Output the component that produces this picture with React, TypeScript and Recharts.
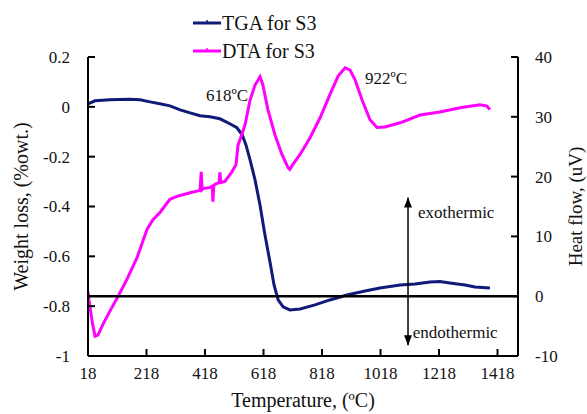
import React from 'react'
import { LineChart, Line, XAxis, YAxis, ReferenceLine, ReferenceDot, Legend } from 'recharts'

const FONT = '"Liberation Serif", "Times New Roman", serif'
const NAVY = '#101a78'
const MAGENTA = '#ff00ff'

const tempTicks = [18, 218, 418, 618, 818, 1018, 1218, 1418]
const weightTicks = [0.2, 0, -0.2, -0.4, -0.6, -0.8, -1]
const heatTicks = [40, 30, 20, 10, 0, -10]

// TGA for S3 (weight loss, %wt.)
const tgaTemp = [18, 42, 93, 162, 196, 230, 264, 298, 333, 367, 401, 435, 469, 503, 527, 545, 558, 572, 589, 606, 623, 640, 654, 668, 685, 708, 743, 794, 845, 903, 965, 1016, 1085, 1136, 1187, 1221, 1255, 1307, 1341, 1392]
const tgaWeight = [0.012, 0.024, 0.028, 0.03, 0.028, 0.02, 0.012, 0.004, -0.012, -0.024, -0.036, -0.04, -0.048, -0.068, -0.084, -0.112, -0.153, -0.213, -0.293, -0.394, -0.514, -0.622, -0.715, -0.775, -0.803, -0.815, -0.811, -0.795, -0.775, -0.755, -0.739, -0.727, -0.715, -0.711, -0.703, -0.701, -0.707, -0.715, -0.723, -0.727]

// DTA for S3 (heat flow, uV)
const dtaTemp = [18, 21, 32, 42, 52, 69, 93, 121, 151, 186, 220, 240, 264, 298, 322, 367, 401, 405, 408, 412, 435, 443, 445, 448, 452, 466, 469, 472, 486, 510, 524, 531, 538, 555, 572, 589, 606, 616, 633, 657, 681, 702, 708, 718, 743, 777, 811, 845, 873, 897, 914, 931, 955, 982, 1006, 1033, 1085, 1153, 1221, 1290, 1358, 1382, 1392]
const dtaHeat = [0.7, -0.5, -4.2, -6.7, -6.5, -4.7, -2.5, 0, 2.8, 6.5, 11.2, 12.8, 14, 16.2, 16.7, 17.3, 17.7, 20.8, 17.8, 18, 18.2, 18.4, 15.8, 18.5, 18.7, 19, 20.7, 19, 19.2, 20.8, 22, 25.3, 26.2, 28.7, 32.8, 35.3, 36.7, 35.3, 31.2, 27, 23.7, 21.5, 21.2, 22, 23.7, 26.5, 29.8, 33.7, 36.8, 38.2, 37.8, 36.2, 32.8, 29.5, 28.2, 28.3, 29, 30.3, 30.8, 31.5, 32, 31.8, 31.2]

const tgaData = tgaTemp.map((t, i) => ({ t, w: tgaWeight[i] }))
const dtaData = dtaTemp.map((t, i) => ({ t, h: dtaHeat[i] }))

const txt = { fontFamily: FONT, fill: '#111' }

const LeftTick = ({ x, y, payload }: any) => (
  <g>
    <line x1={x + 18} x2={x + 25} y1={y} y2={y} stroke="#000" strokeWidth={2} />
    <text x={x} y={y} dy="0.35em" textAnchor="end" fontSize={17} {...txt}>{payload.value}</text>
  </g>
)

const RightTick = ({ x, y, payload }: any) => (
  <g>
    <line x1={x - 17} x2={x - 24} y1={y} y2={y} stroke="#000" strokeWidth={2} />
    <text x={x} y={y} dy="0.35em" textAnchor="start" fontSize={17} {...txt}>{payload.value}</text>
  </g>
)

const BottomTick = ({ x, y, payload }: any) => (
  <g>
    <line x1={x} x2={x} y1={y} y2={y - 7} stroke="#000" strokeWidth={2} />
    <text x={x} y={y + 23} textAnchor="middle" fontSize={17} {...txt}>{payload.value}</text>
  </g>
)

const note = (value: string, anchor: 'start' | 'middle' = 'middle') => (p: any) => (
  <text x={p.cx} y={p.cy} dy="0.35em" textAnchor={anchor} fontSize={17} {...txt}>{value}</text>
)

const arrowHead = (up: boolean) => (p: any) => (
  <path
    d={up
      ? `M${p.cx},${p.cy} L${p.cx - 4},${p.cy + 10} L${p.cx + 4},${p.cy + 10} Z`
      : `M${p.cx},${p.cy} L${p.cx - 4},${p.cy - 10} L${p.cx + 4},${p.cy - 10} Z`}
    fill="#000"
  />
)

const legendItems = [
  { name: 'TGA for S3', color: NAVY },
  { name: 'DTA for S3', color: MAGENTA },
]

const renderLegend = () => (
  <div style={{ fontFamily: FONT, fontSize: 20, color: '#111', lineHeight: '28px' }}>
    {legendItems.map(it => (
      <div key={it.name} style={{ display: 'flex', alignItems: 'center', height: 28 }}>
        <svg width={30} height={10} style={{ marginRight: 0 }}>
          <line x1={1} x2={29} y1={5} y2={5} stroke={it.color} strokeWidth={3} />
          <line x1={15} x2={15} y1={2} y2={5} stroke={it.color} strokeWidth={1.5} />
        </svg>
        <span>{it.name}</span>
      </div>
    ))}
  </div>
)

export default function App() {
  return (
    <div style={{ position: 'absolute', left: 0, top: 0, background: '#fff' }}>
      <LineChart width={587} height={414} margin={{ top: 57, right: 19, bottom: 18, left: 28 }}>
        <XAxis
          dataKey="t"
          type="number"
          domain={[18, 1488]}
          ticks={tempTicks}
          allowDataOverflow
          axisLine={{ stroke: '#000', strokeWidth: 2 }}
          tickLine={false}
          tickSize={0}
          tickMargin={0}
          tick={<BottomTick />}
          height={40}
          label={{
            content: (p: any) => (
              <text x={p.viewBox.x + p.viewBox.width / 2} y={p.viewBox.y + 51} textAnchor="middle" fontSize={20} {...txt}>
                Temperature, (ºC)
              </text>
            ),
          }}
        />
        <YAxis
          yAxisId="left"
          domain={[-1, 0.2]}
          ticks={weightTicks}
          allowDataOverflow
          width={60}
          axisLine={{ stroke: '#000', strokeWidth: 2 }}
          tickLine={false}
          tickSize={0}
          tickMargin={18}
          tick={<LeftTick />}
          label={{
            content: (p: any) => {
              const cx = p.viewBox.x - 7
              const cy = p.viewBox.y + p.viewBox.height / 2
              return (
                <text x={cx} y={cy} dy="0.35em" textAnchor="middle" transform={`rotate(-90, ${cx}, ${cy})`} fontSize={20} {...txt}>
                  Weight loss, (%owt.)
                </text>
              )
            },
          }}
        />
        <YAxis
          yAxisId="right"
          orientation="right"
          domain={[-10, 40]}
          ticks={heatTicks}
          allowDataOverflow
          width={50}
          axisLine={{ stroke: '#000', strokeWidth: 2 }}
          tickLine={false}
          tickSize={0}
          tickMargin={17}
          tick={<RightTick />}
          label={{
            content: (p: any) => {
              const cx = p.viewBox.x + 57
              const cy = p.viewBox.y + p.viewBox.height / 2
              return (
                <text x={cx} y={cy} dy="0.35em" textAnchor="middle" transform={`rotate(-90, ${cx}, ${cy})`} fontSize={19} {...txt}>
                  Heat flow, (uV)
                </text>
              )
            },
          }}
        />
        <Legend
          layout="vertical"
          align="center"
          verticalAlign="middle"
          content={renderLegend}
          wrapperStyle={{ top: 9, left: 192, width: 'auto', height: 'auto' }}
        />
        <Line data={tgaData} dataKey="w" yAxisId="left" stroke={NAVY} strokeWidth={3} dot={false} isAnimationActive={false} />
        <Line data={dtaData} dataKey="h" yAxisId="right" stroke={MAGENTA} strokeWidth={3} dot={false} isAnimationActive={false} />
        <ReferenceLine yAxisId="right" y={0} stroke="#000" strokeWidth={2.5} />
        <ReferenceLine
          yAxisId="right"
          segment={[{ x: 1112, y: 16.5 }, { x: 1112, y: -8.2 }]}
          stroke="#000"
          strokeWidth={1.5}
        />
        <ReferenceDot yAxisId="right" x={1112} y={16.5} ifOverflow="visible" shape={arrowHead(true)} />
        <ReferenceDot yAxisId="right" x={1112} y={-8.2} ifOverflow="visible" shape={arrowHead(false)} />
        <ReferenceDot yAxisId="right" x={493} y={33.7} ifOverflow="visible" shape={note('618ºC')} />
        <ReferenceDot yAxisId="right" x={1037} y={36.5} ifOverflow="visible" shape={note('922ºC')} />
        <ReferenceDot yAxisId="right" x={1146} y={14} ifOverflow="visible" shape={note('exothermic', 'start')} />
        <ReferenceDot yAxisId="right" x={1128} y={-6} ifOverflow="visible" shape={note('endothermic', 'start')} />
      </LineChart>
    </div>
  )
}
